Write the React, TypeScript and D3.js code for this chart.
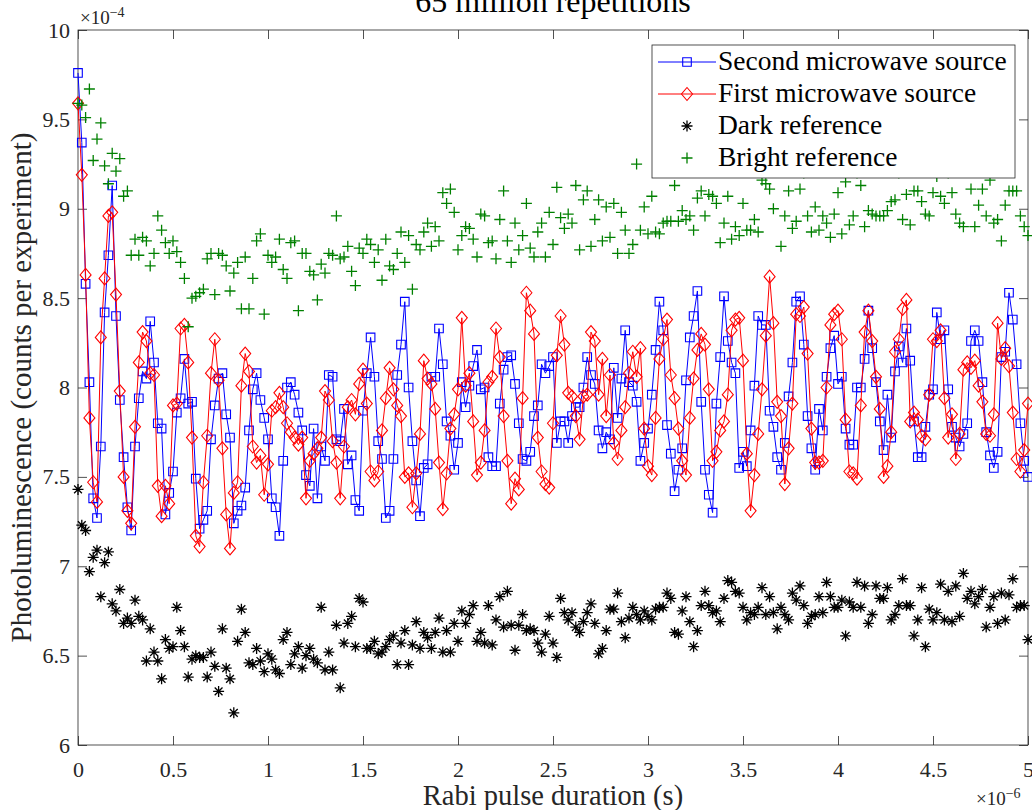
import React, { useRef, useEffect } from 'react';
import * as d3 from 'd3';

// pulse duration increment between samples, in microseconds (x axis is shown x1e-6 s)
const stepUs = 0.02;

// photoluminescence, in units of 1e-4 counts per experiment
const secondSource = [
  9.76, 9.37, 8.58, 8.03, 7.38, 7.27, 7.67, 8.42, 8.74, 9.13,
  8.40, 7.93, 7.61, 7.33, 7.20, 7.67, 7.94, 8.09, 8.05, 8.37,
  8.14, 7.80, 7.77, 7.29, 7.41, 7.53, 7.86, 7.94, 8.16, 7.91,
  7.92, 7.49, 7.21, 7.26, 7.31, 7.71, 7.90, 8.05, 8.08, 7.85,
  7.72, 7.24, 7.31, 7.34, 7.44, 7.76, 7.99, 8.08, 7.93, 7.83,
  7.71, 7.38, 7.33, 7.17, 7.59, 8.00, 8.03, 7.96, 7.86, 7.76,
  7.51, 7.45, 7.77, 7.38, 7.67, 7.59, 8.07, 8.06, 7.71, 7.70,
  7.88, 7.57, 7.62, 7.37, 7.31, 7.87, 8.08, 8.28, 8.06, 7.70,
  7.60, 7.27, 7.31, 7.60, 8.07, 8.24, 8.48, 8.00, 7.70, 7.48,
  7.28, 7.55, 7.57, 8.06, 8.06, 8.33, 8.13, 7.81, 7.73, 7.54,
  7.69, 8.03, 7.89, 8.01, 8.12, 8.21, 7.99, 8.00, 7.61, 7.56,
  7.56, 7.91, 8.10, 8.17, 8.18, 8.02, 7.80, 7.60, 7.59, 7.64,
  7.84, 7.90, 8.13, 8.08, 8.12, 8.17, 7.69, 7.81, 7.81, 7.69,
  7.84, 7.89, 7.89, 8.00, 8.17, 8.07, 8.02, 7.76, 7.66, 7.75,
  7.71, 8.11, 7.83, 8.05, 8.32, 8.03, 8.01, 7.92, 7.59, 7.69,
  7.77, 7.96, 8.21, 8.48, 8.32, 7.79, 7.63, 7.42, 7.54, 7.66,
  8.04, 8.28, 8.40, 8.54, 7.92, 7.54, 7.40, 7.30, 7.91, 8.17,
  8.51, 8.26, 8.14, 8.08, 7.55, 7.64, 7.56, 7.76, 8.01, 8.40,
  8.35, 8.35, 7.87, 7.78, 7.61, 7.54, 7.69, 7.95, 8.14, 8.48,
  8.51, 8.24, 7.84, 7.66, 7.54, 7.88, 7.76, 8.06, 8.22, 8.29,
  8.02, 8.06, 7.77, 7.68, 7.68, 8.00, 8.00, 8.16, 8.43, 8.22,
  8.03, 7.81, 7.65, 7.96, 7.72, 8.09, 8.23, 8.14, 8.33, 8.15,
  7.81, 7.61, 7.61, 7.78, 7.96, 7.99, 8.42, 8.27, 8.32, 7.99,
  7.78, 7.72, 7.67, 7.74, 7.80, 8.26, 8.32, 8.26, 8.03, 7.75,
  7.62, 7.55, 7.64, 8.17, 8.20, 8.53, 8.38, 8.13, 7.80, 7.59, 7.50,
];

const firstSource = [
  9.59, 9.19, 8.63, 7.83, 7.47, 7.36, 8.28, 8.61, 8.96, 8.98,
  8.52, 7.98, 7.50, 7.31, 7.24, 7.78, 8.14, 8.31, 8.26, 8.08,
  8.07, 7.45, 7.28, 7.45, 7.35, 7.90, 7.91, 8.33, 8.35, 8.14,
  7.72, 7.17, 7.11, 7.47, 7.73, 8.08, 8.27, 8.04, 7.66, 7.29,
  7.10, 7.41, 7.47, 8.01, 8.19, 8.09, 7.67, 7.58, 7.62, 7.40,
  7.57, 7.87, 7.89, 7.97, 7.89, 7.80, 7.75, 7.72, 7.68, 7.72,
  7.38, 7.59, 7.63, 7.66, 7.72, 7.98, 7.93, 7.70, 7.58, 7.38,
  7.67, 7.89, 7.93, 7.85, 8.02, 8.10, 7.91, 7.53, 7.48, 7.53,
  7.76, 7.94, 8.11, 7.99, 7.90, 7.84, 7.50, 7.52, 7.33, 7.52,
  7.74, 8.15, 8.05, 8.02, 7.88, 7.58, 7.32, 7.52, 7.77, 7.85,
  7.99, 8.39, 8.01, 8.08, 7.81, 7.51, 7.58, 7.76, 8.03, 8.06,
  8.33, 8.17, 7.84, 7.59, 7.35, 7.49, 7.43, 7.94, 8.53, 8.43,
  8.30, 7.72, 7.53, 7.46, 7.44, 7.80, 8.18, 8.40, 8.24, 7.97,
  7.95, 7.84, 7.71, 7.95, 7.96, 8.31, 8.26, 7.96, 8.16, 7.84,
  8.07, 7.69, 7.60, 7.76, 7.89, 8.08, 8.20, 8.06, 8.22, 7.77,
  7.56, 7.51, 7.83, 8.16, 8.27, 8.38, 8.07, 7.94, 7.77, 7.59,
  7.51, 7.83, 8.05, 8.21, 8.30, 8.24, 7.99, 7.59, 7.64, 7.76,
  7.81, 7.96, 8.32, 8.38, 8.39, 8.15, 7.63, 7.31, 7.51, 7.74,
  7.99, 8.29, 8.62, 8.36, 7.92, 7.84, 7.46, 7.66, 7.91, 8.41,
  8.40, 8.45, 8.19, 7.77, 7.58, 7.58, 7.59, 8.00, 8.35, 8.41,
  8.43, 8.27, 7.82, 7.53, 7.52, 7.49, 7.90, 8.31, 8.43, 8.26,
  8.06, 7.88, 7.50, 7.56, 7.75, 8.20, 8.27, 8.44, 8.49, 7.81,
  7.86, 7.82, 7.73, 7.71, 7.96, 8.27, 8.26, 8.32, 7.94, 7.72,
  7.85, 7.60, 7.74, 8.10, 8.14, 8.11, 8.15, 8.01, 7.92, 7.74,
  7.73, 7.85, 8.36, 8.16, 8.22, 8.12, 7.86, 7.60, 7.53, 7.65, 7.91,
];

const darkRef = [
  7.43, 7.23, 7.20, 6.97, 7.05, 7.09, 6.83, 7.02, 7.08, 6.79,
  6.75, 6.87, 6.68, 6.71, 6.68, 6.81, 6.72, 6.70, 6.47, 6.65,
  6.52, 6.47, 6.37, 6.59, 6.54, 6.55, 6.77, 6.64, 6.55, 6.38,
  6.48, 6.50, 6.49, 6.49, 6.38, 6.52, 6.44, 6.30, 6.65, 6.43,
  6.37, 6.18, 6.58, 6.76, 6.63, 6.46, 6.45, 6.54, 6.47, 6.41,
  6.51, 6.48, 6.42, 6.40, 6.59, 6.63, 6.45, 6.51, 6.55, 6.43,
  6.50, 6.54, 6.48, 6.46, 6.77, 6.42, 6.52, 6.42, 6.67, 6.32,
  6.57, 6.68, 6.72, 6.55, 6.82, 6.80, 6.54, 6.54, 6.58, 6.51,
  6.52, 6.55, 6.59, 6.61, 6.45, 6.57, 6.64, 6.45, 6.56, 6.69,
  6.54, 6.63, 6.60, 6.54, 6.63, 6.71, 6.52, 6.64, 6.52, 6.68,
  6.58, 6.75, 6.68, 6.73, 6.78, 6.58, 6.63, 6.57, 6.78, 6.56,
  6.70, 6.83, 6.66, 6.86, 6.67, 6.53, 6.67, 6.73, 6.64, 6.65,
  6.64, 6.57, 6.52, 6.62, 6.72, 6.57, 6.49, 6.82, 6.74, 6.70,
  6.74, 6.66, 6.63, 6.69, 6.74, 6.79, 6.68, 6.51, 6.54, 6.64,
  6.76, 6.76, 6.85, 6.69, 6.60, 6.71, 6.77, 6.73, 6.70, 6.75,
  6.72, 6.70, 6.76, 6.77, 6.77, 6.85, 6.82, 6.63, 6.62, 6.75,
  6.83, 6.69, 6.55, 6.64, 6.78, 6.86, 6.78, 6.74, 6.75, 6.69,
  6.82, 6.92, 6.91, 6.86, 6.85, 6.77, 6.70, 6.74, 6.73, 6.77,
  6.88, 6.73, 6.83, 6.74, 6.65, 6.77, 6.73, 6.70, 6.85, 6.81,
  6.89, 6.78, 6.68, 6.72, 6.73, 6.83, 6.74, 6.91, 6.83, 6.77,
  6.77, 6.81, 6.61, 6.80, 6.77, 6.91, 6.77, 6.89, 6.68, 6.73,
  6.89, 6.82, 6.82, 6.88, 6.70, 6.73, 6.78, 6.93, 6.78, 6.78,
  6.61, 6.70, 6.88, 6.55, 6.76, 6.70, 6.74, 6.90, 6.70, 6.86,
  6.69, 6.89, 6.72, 6.96, 6.82, 6.86, 6.79, 6.83, 6.87, 6.66,
  6.77, 6.83, 6.68, 6.85, 6.70, 6.84, 6.93, 6.77, 6.78, 6.78, 6.59,
];

const brightRef = [
  9.59, 9.58, 9.51, 9.67, 9.27, 9.39, 9.48, 9.24, 9.14, 9.31,
  9.21, 9.28, 9.07, 9.10, 8.74, 8.83, 8.74, 8.84, 8.82, 8.68,
  8.75, 8.96, 8.88, 8.81, 8.75, 8.82, 8.76, 8.70, 8.61, 8.34,
  8.50, 8.51, 8.53, 8.55, 8.72, 8.75, 8.52, 8.75, 8.74, 8.68,
  8.54, 8.64, 8.70, 8.44, 8.73, 8.44, 8.61, 8.82, 8.86, 8.41,
  8.74, 8.70, 8.73, 8.83, 8.66, 8.61, 8.81, 8.82, 8.43, 8.75,
  8.75, 8.65, 8.63, 8.49, 8.69, 8.64, 8.75, 8.74, 8.96, 8.72,
  8.73, 8.79, 8.65, 8.57, 8.78, 8.75, 8.83, 8.80, 8.70, 8.77,
  8.60, 8.83, 8.68, 8.66, 8.75, 8.87, 8.70, 8.85, 8.55, 8.80,
  8.77, 8.87, 8.92, 8.79, 8.90, 8.82, 9.09, 9.03, 9.11, 8.98,
  8.77, 8.85, 8.90, 8.89, 8.83, 8.73, 8.97, 8.96, 8.81, 8.82,
  8.72, 8.94, 9.10, 8.82, 8.70, 8.92, 8.77, 8.85, 9.03, 8.78,
  8.73, 8.87, 8.92, 8.73, 8.98, 8.80, 9.12, 8.95, 8.89, 8.97,
  8.92, 9.13, 8.77, 9.05, 9.10, 8.79, 8.94, 9.05, 8.82, 9.01,
  8.84, 9.03, 8.75, 8.98, 8.88, 8.75, 8.80, 9.25, 8.88, 9.01,
  8.86, 9.07, 8.87, 8.86, 8.92, 8.93, 8.93, 9.13, 8.93, 8.99,
  8.94, 8.96, 8.88, 9.06, 9.10, 8.96, 9.08, 9.07, 9.03, 8.81,
  8.92, 9.07, 8.83, 8.90, 8.85, 9.03, 8.88, 8.88, 8.94, 8.87,
  9.16, 9.14, 9.11, 9.00, 9.22, 8.79, 8.96, 9.10, 8.89, 8.93,
  9.11, 9.20, 8.96, 8.87, 9.01, 8.88, 8.96, 8.92, 8.84, 8.97,
  9.09, 8.86, 9.15, 8.91, 8.96, 9.20, 9.13, 8.90, 8.99, 8.97,
  8.96, 8.96, 8.96, 8.99, 9.04, 9.05, 9.20, 8.94, 9.08, 8.91,
  9.10, 9.10, 9.04, 8.97, 8.96, 9.09, 9.18, 9.07, 9.03, 9.20,
  9.09, 8.97, 8.92, 8.90, 9.22, 9.11, 8.90, 9.02, 9.11, 8.96,
  9.16, 8.92, 8.94, 8.82, 9.02, 9.10, 9.10, 9.10, 8.96, 8.90, 8.85,
];

const xTicks = [0, 0.5, 1, 1.5, 2, 2.5, 3, 3.5, 4, 4.5, 5];
const yTicks = [6, 6.5, 7, 7.5, 8, 8.5, 9, 9.5, 10];
const legendLabels = ['Second microwave source', 'First microwave source', 'Dark reference', 'Bright reference'];

const FONT = '"Liberation Serif", "Times New Roman", serif';
const INK = '#262626';

// marker outlines, centred on 0,0
const squarePath = 'M-4.3,-4.3H4.3V4.3H-4.3Z';
const diamondPath = 'M0,-6.5L5.5,0L0,6.5L-5.5,0Z';
const plusPath = 'M-5.5,0H5.5M0,-5.5V5.5';
const starPath = 'M-5.5,0H5.5M0,-5.5V5.5M-3.9,-3.9L3.9,3.9M-3.9,3.9L3.9,-3.9';

function RabiChart() {
  const ref = useRef<SVGSVGElement>(null);

  useEffect(() => {
    const width = 1032;
    const height = 810;
    const margin = { top: 30, right: 4, bottom: 65, left: 78 };

    const svg = d3.select(ref.current);
    svg.selectAll('*').remove();

    const x = d3.scaleLinear().domain([0, 5]).range([margin.left, width - margin.right]);
    const y = d3.scaleLinear().domain([6, 10]).range([height - margin.bottom, margin.top]);
    const t = (i: number) => x(i * stepUs);

    // title, cut off by the top edge like in the original figure
    svg.append('text')
      .attr('x', (margin.left + width - margin.right) / 2)
      .attr('y', 12)
      .attr('text-anchor', 'middle')
      .style('font-family', FONT)
      .style('font-size', '32px')
      .attr('fill', 'black')
      .text('65 million repetitions');

    // axes with inward ticks
    const fmt = d3.format('');
    const styleAxis = (g: any) => {
      g.select('.domain').remove();
      g.selectAll('line').attr('stroke', INK).attr('stroke-width', 0.8);
      g.selectAll('text').attr('fill', INK).style('font-family', FONT).style('font-size', '22px');
    };

    svg.append('g')
      .attr('transform', `translate(0,${y(6)})`)
      .call(d3.axisBottom(x).tickValues(xTicks).tickSize(-9).tickPadding(16).tickFormat(fmt as any))
      .call(styleAxis);
    svg.append('g')
      .attr('transform', `translate(${x(0)},0)`)
      .call(d3.axisLeft(y).tickValues(yTicks).tickSize(-9).tickPadding(8).tickFormat(fmt as any))
      .call(styleAxis);
    svg.append('g')
      .attr('transform', `translate(0,${y(10)})`)
      .call(d3.axisTop(x).tickValues(xTicks).tickSize(-9).tickFormat(() => ''))
      .call(styleAxis);
    svg.append('g')
      .attr('transform', `translate(${x(5)},0)`)
      .call(d3.axisRight(y).tickValues(yTicks).tickSize(-9).tickFormat(() => ''))
      .call(styleAxis);

    svg.append('rect')
      .attr('x', x(0)).attr('y', y(10))
      .attr('width', x(5) - x(0)).attr('height', y(6) - y(10))
      .attr('fill', 'none').attr('stroke', INK).attr('stroke-width', 0.8);

    // exponent labels
    const expo = (px: number, py: number, power: string) => {
      const g = svg.append('text').attr('x', px).attr('y', py).attr('fill', INK)
        .style('font-family', FONT).style('font-size', '19px');
      g.append('tspan').text('×10');
      g.append('tspan').attr('dy', -7).style('font-size', '14px').text(power);
    };
    expo(x(0) + 2, 24, '−4');
    expo(x(5) - 52, 805, '−6');

    // axis labels
    svg.append('text')
      .attr('x', (x(0) + x(5)) / 2)
      .attr('y', 805)
      .attr('text-anchor', 'middle')
      .attr('fill', INK)
      .style('font-family', FONT)
      .style('font-size', '28.5px')
      .text('Rabi pulse duration (s)');
    svg.append('text')
      .attr('transform', `translate(31,${(y(6) + y(10)) / 2}) rotate(-90)`)
      .attr('text-anchor', 'middle')
      .attr('fill', INK)
      .style('font-family', FONT)
      .style('font-size', '29px')
      .text('Photoluminescence (counts per experiment)');

    const line = d3.line<number>().x((d, i) => t(i)).y(d => y(d));

    // second source: blue squares joined by a line
    svg.append('path').datum(secondSource).attr('d', line)
      .attr('fill', 'none').attr('stroke', '#0000ff').attr('stroke-width', 1);
    svg.append('g').selectAll('path').data(secondSource).join('path')
      .attr('transform', (d, i) => `translate(${t(i)},${y(d)})`)
      .attr('d', squarePath)
      .attr('fill', 'none').attr('stroke', '#0000ff').attr('stroke-width', 1.1);

    // first source: red diamonds joined by a line
    svg.append('path').datum(firstSource).attr('d', line)
      .attr('fill', 'none').attr('stroke', '#ff0000').attr('stroke-width', 1);
    svg.append('g').selectAll('path').data(firstSource).join('path')
      .attr('transform', (d, i) => `translate(${t(i)},${y(d)})`)
      .attr('d', diamondPath)
      .attr('fill', 'none').attr('stroke', '#ff0000').attr('stroke-width', 1.1);

    // dark reference: black asterisks
    svg.append('g').selectAll('path').data(darkRef).join('path')
      .attr('transform', (d, i) => `translate(${t(i)},${y(d)})`)
      .attr('d', starPath)
      .attr('fill', 'none').attr('stroke', 'black').attr('stroke-width', 1.3);

    // bright reference: green plus signs
    svg.append('g').selectAll('path').data(brightRef).join('path')
      .attr('transform', (d, i) => `translate(${t(i)},${y(d)})`)
      .attr('d', plusPath)
      .attr('fill', 'none').attr('stroke', '#008000').attr('stroke-width', 1.3);

    // legend
    const legend = svg.append('g').attr('transform', 'translate(652,45)');
    legend.append('rect')
      .attr('width', 363).attr('height', 133)
      .attr('fill', 'white').attr('stroke', INK).attr('stroke-width', 0.8);
    const entries = [
      { color: '#0000ff', marker: squarePath, line: true, width: 1.1 },
      { color: '#ff0000', marker: diamondPath, line: true, width: 1.1 },
      { color: 'black', marker: starPath, line: false, width: 1.3 },
      { color: '#008000', marker: plusPath, line: false, width: 1.3 },
    ];
    entries.forEach((e, k) => {
      const cy = 17 + k * 32;
      if (e.line) {
        legend.append('line').attr('x1', 6).attr('x2', 64).attr('y1', cy).attr('y2', cy)
          .attr('stroke', e.color).attr('stroke-width', 1);
      }
      legend.append('path').attr('transform', `translate(35,${cy})`).attr('d', e.marker)
        .attr('fill', 'none').attr('stroke', e.color).attr('stroke-width', e.width);
      legend.append('text').attr('x', 66).attr('y', cy + 8)
        .attr('fill', 'black')
        .style('font-family', FONT).style('font-size', '27.5px')
        .text(legendLabels[k]);
    });
  }, []);

  return (
    <svg ref={ref} width="1032" height="810"
      style={{ position: 'absolute', left: 0, top: 0, background: 'white' }} />
  );
}

export default function App() {
  return <RabiChart />;
}
